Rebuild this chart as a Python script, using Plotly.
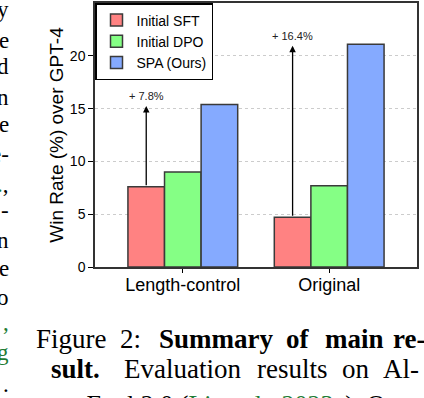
import plotly.graph_objects as go

# values (win rate %, AlpacaEval 2.0)
categories = ['Length-control', 'Original']
initial_sft = [7.6, 4.7]
initial_dpo = [9.0, 7.7]
spa_ours = [15.4, 21.1]
series_names = ['Initial SFT', 'Initial DPO', 'SPA (Ours)']
series_colors = ['#FF8282', '#85FF85', '#85AAFF']

W, H = 424, 398
ML, MR, MT, MB = 95, 7, 3, 131
PW, PH = W - ML - MR, H - MT - MB


def px_x(px):
    return (px - ML) / PW


def px_y(py):
    return (H - MB - py) / PH


fig = go.Figure()
x_idx = list(range(len(categories)))
for name, vals, col in zip(series_names, [initial_sft, initial_dpo, spa_ours], series_colors):
    fig.add_trace(go.Bar(x=x_idx, y=vals, name=name,
                         marker=dict(color=col, line=dict(color='#3a3a3a', width=1.5))))

# improvement arrows from SFT bar top up to SPA height
for i in x_idx:
    xs = i - 0.25
    fig.add_annotation(x=xs, y=spa_ours[i] - 0.15, ax=xs, ay=initial_sft[i],
                       xref='x', yref='y', axref='x', ayref='y',
                       showarrow=True, arrowhead=2, arrowsize=1, arrowwidth=1.3,
                       arrowcolor='black', standoff=0, startstandoff=0, text='')
    fig.add_annotation(x=xs, y=spa_ours[i] + 0.8, xref='x', yref='y',
                       text=f'+ {spa_ours[i] - initial_sft[i]:.1f}%', showarrow=False,
                       font=dict(size=11, color='#222'))

# caption below the chart (justified lines, word by word)
serif = 'Liberation Serif, Times New Roman, serif'
green = '#1e7b34'
caption_words = [
    ('Figure', 71, 339), ('2:', 130, 339), ('<b>Summary</b>', 216, 339),
    ('<b>of</b>', 298, 339), ('<b>main</b>', 354, 339), ('<b>re-</b>', 409, 339),
    ('<b>sult.</b>', 75, 369), ('Evaluation', 182, 369), ('results', 292, 369),
    ('on', 356, 369), ('Al-', 401, 369),
]
for txt, cx, cy in caption_words:
    fig.add_annotation(x=px_x(cx), y=px_y(cy), xref='paper', yref='paper',
                       text=txt, showarrow=False, xanchor='center', yanchor='middle',
                       font=dict(family=serif, size=27, color='black'))
# third caption line, mostly below the window edge
fig.add_annotation(x=px_x(37), y=px_y(404), xref='paper', yref='paper',
                   text=f'pacaEval 2.0 (<span style="color:{green}">Li et al., 2023a</span>). Our',
                   showarrow=False, xanchor='left', yanchor='middle',
                   font=dict(family=serif, size=26, color='black'))

# right ends of the neighbouring text column, cut off at the left edge
fragments = [('y', 10), ('e', 40), ('d', 66), ('n', 97), ('e', 124), ('e-', 155),
             (f'<span style="color:{green}">.</span>,', 184), ('-', 210), ('n', 240),
             ('e', 268), ('o', 297), (f'<span style="color:{green}">,</span>', 322),
             (f'<span style="color:{green}">g</span>', 352), ('.', 384)]
for txt, cy in fragments:
    fig.add_annotation(x=px_x(11), y=px_y(cy), xref='paper', yref='paper',
                       text=txt, showarrow=False, xanchor='right', yanchor='middle',
                       font=dict(family=serif, size=23, color='black'))

fig.update_layout(
    width=W, height=H,
    margin=dict(l=ML, r=MR, t=MT, b=MB, autoexpand=False),
    paper_bgcolor='white', plot_bgcolor='white',
    font=dict(family='Liberation Sans, Arial, sans-serif', color='black'),
    barmode='group', bargap=0.25, bargroupgap=0,
    showlegend=True,
    legend=dict(x=0, y=1, xanchor='left', yanchor='top', bgcolor='white',
                bordercolor='black', borderwidth=1.5, font=dict(size=14),
                tracegroupgap=0),
)
fig.update_xaxes(range=[-0.6, 1.6], tickmode='array', tickvals=x_idx, ticktext=categories,
                 tickfont=dict(size=18), ticks='outside', ticklen=4, tickcolor='black',
                 showline=True, linecolor='#333', linewidth=1.5, mirror=True,
                 showgrid=False, zeroline=False, automargin=False)
try:
    fig.update_xaxes(ticklabelstandoff=-3)
except ValueError:
    pass
fig.update_yaxes(range=[0, 25], tickvals=[0, 5, 10, 15, 20], tickfont=dict(size=14),
                 ticks='outside', ticklen=5, tickcolor='black',
                 showline=True, linecolor='#333', linewidth=1.5, mirror=True,
                 showgrid=True, gridcolor='#cccccc', griddash='dot', gridwidth=1,
                 zeroline=False, automargin=False,
                 title=dict(text='Win Rate (%) over GPT-4', font=dict(size=19), standoff=1))

# drop the default page margin so the figure sits at the window's corner
fig.write_html('out.html', config={'displayModeBar': False},
               post_script="document.body.style.margin='0';")
